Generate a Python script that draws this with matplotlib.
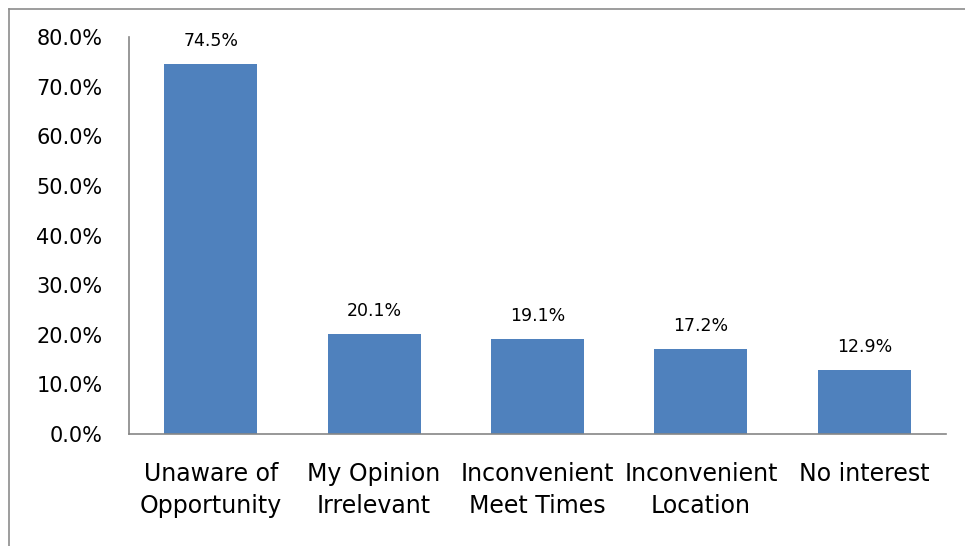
import matplotlib
matplotlib.use("Agg")
import matplotlib.pyplot as plt
from matplotlib.lines import Line2D

categories = ["Unaware of\nOpportunity", "My Opinion\nIrrelevant", "Inconvenient\nMeet Times",
              "Inconvenient\nLocation", "No interest"]
values = [74.5, 20.1, 19.1, 17.2, 12.9]
yticks = [0, 10, 20, 30, 40, 50, 60, 70, 80]

plt.rcParams["font.family"] = ["DejaVu Sans"]

fig = plt.figure(figsize=(9.65, 5.46), dpi=100)
# outer chart border: only left and top edges fall inside the picture
bx, by = 8.5 / 965, (546 - 8.5) / 546
fig.lines.append(Line2D([bx, bx], [0, by], transform=fig.transFigure, color="#8c8c8c", lw=1.2))
fig.lines.append(Line2D([bx, 1], [by, by], transform=fig.transFigure, color="#8c8c8c", lw=1.2))

ax = fig.add_axes([129 / 965, (546 - 434) / 546, (946 - 129) / 965, (434 - 37) / 546])
x = range(len(categories))
bars = ax.bar(x, values, width=0.57, color="#4F81BD")
for b, v in zip(bars, values):
    ax.annotate(f"{v:.1f}%", (b.get_x() + b.get_width() / 2, v), xytext=(0, 10),
                textcoords="offset points", ha="center", va="bottom", fontsize=12.5)

ax.set_xlim(-0.5, len(categories) - 0.5)
ax.set_ylim(0, 80)
ax.set_yticks(yticks)
ax.set_yticklabels([f"{t:.1f}%" for t in yticks], fontsize=15)
ax.set_xticks(list(x))
ax.set_xticklabels(categories, fontsize=17, linespacing=1.45)
ax.tick_params(axis="both", length=0)
ax.tick_params(axis="x", pad=20)
ax.tick_params(axis="y", pad=19)
for s in ["top", "right"]:
    ax.spines[s].set_visible(False)
for s in ["left", "bottom"]:
    ax.spines[s].set_color("#868686")
    ax.spines[s].set_linewidth(1.2)

fig.savefig("out.png", dpi=100)
